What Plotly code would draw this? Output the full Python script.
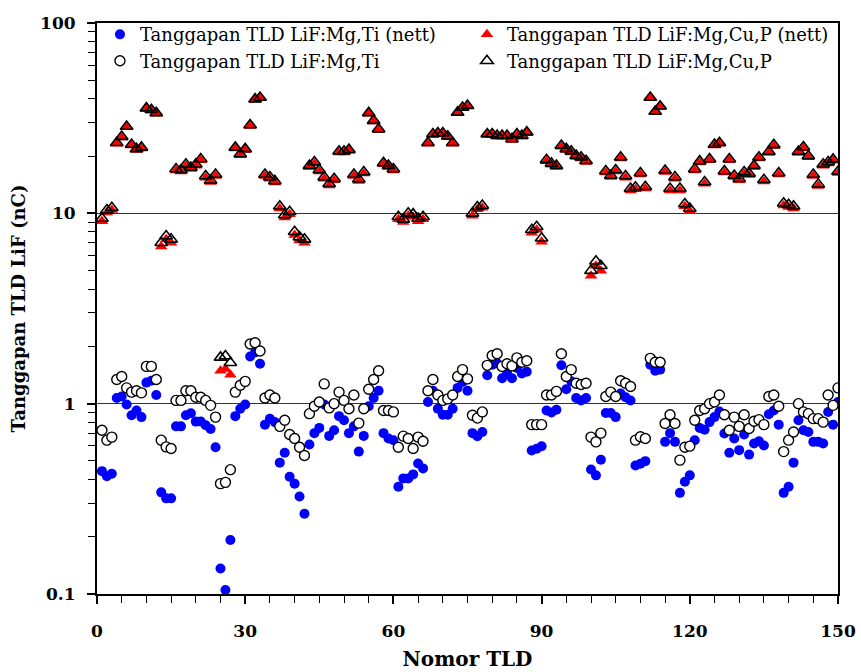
import plotly.graph_objects as go

tld = list(range(1, 151))

mgti_nett = [0.442, 0.416, 0.428, 1.07, 1.09, 0.99, 0.87, 0.92, 0.85, 1.29,
             1.32, 1.11, 0.342, 0.318, 0.318, 0.76, 0.76, 0.87, 0.89, 0.805,
             0.805, 0.77, 0.736, 0.59, 0.136, 0.105, 0.192, 0.86, 0.94, 0.99,
             1.77, 1.86, 1.62, 0.776, 0.834, 0.80, 0.49, 0.552, 0.413, 0.38,
             0.325, 0.264, 0.61, 0.70, 0.746, 0.99, 0.677, 0.725, 0.86, 0.818,
             0.70, 0.76, 0.56, 0.677, 0.97, 1.07, 1.17, 0.70, 0.656, 0.643,
             0.366, 0.405, 0.405, 0.425, 0.485, 0.457, 1.02, 1.17, 0.94, 0.875,
             0.875, 0.94, 1.21, 1.30, 1.17, 0.70, 0.675, 0.71, 1.41, 1.60,
             1.63, 1.36, 1.45, 1.36, 1.54, 1.44, 1.47, 0.567, 0.58, 0.598,
             0.92, 0.90, 0.93, 1.59, 1.19, 1.31, 1.07, 1.04, 1.07, 0.451,
             0.42, 0.507, 0.894, 0.894, 0.85, 1.13, 1.08, 1.04, 0.473, 0.483,
             0.499, 1.60, 1.49, 1.51, 0.63, 0.70, 0.63, 0.34, 0.389, 0.42,
             0.643, 0.746, 0.73, 0.80, 0.85, 0.91, 0.697, 0.552, 0.656, 0.57,
             0.689, 0.54, 0.618, 0.635, 0.603, 0.88, 0.92, 0.776, 0.34, 0.366,
             0.49, 0.818, 0.725, 0.71, 0.63, 0.63, 0.618, 0.905, 0.776, 1.02]

mgti_raw = [0.725, 0.643, 0.667, 1.34, 1.39, 1.21, 1.15, 1.17, 1.14, 1.57,
            1.57, 1.34, 0.643, 0.593, 0.581, 1.04, 1.04, 1.17, 1.17, 1.08,
            1.08, 1.04, 0.98, 0.85, 0.38, 0.386, 0.45, 1.15, 1.25, 1.31,
            2.06, 2.09, 1.89, 1.07, 1.11, 1.07, 0.76, 0.818, 0.689, 0.656,
            0.59, 0.534, 0.886, 0.97, 1.02, 1.27, 0.95, 1.0, 1.15, 1.04,
            0.94, 1.11, 0.79, 0.94, 1.19, 1.34, 1.49, 0.92, 0.92, 0.905,
            0.59, 0.675, 0.656, 0.581, 0.667, 0.635, 1.17, 1.34, 1.11, 1.04,
            1.06, 1.11, 1.39, 1.51, 1.35, 0.87, 0.84, 0.905, 1.59, 1.79,
            1.83, 1.57, 1.62, 1.58, 1.74, 1.65, 1.68, 0.776, 0.776, 0.776,
            1.11, 1.11, 1.16, 1.83, 1.39, 1.51, 1.28, 1.26, 1.28, 0.667,
            0.63, 0.70, 1.09, 1.15, 1.09, 1.32, 1.28, 1.23, 0.643, 0.67,
            0.656, 1.73, 1.65, 1.65, 0.786, 0.875, 0.786, 0.505, 0.59, 0.598,
            0.818, 0.92, 0.94, 1.0, 1.02, 1.11, 0.875, 0.725, 0.85, 0.76,
            0.875, 0.74, 0.808, 0.824, 0.776, 1.09, 1.11, 0.97, 0.56, 0.643,
            0.71, 1.0, 0.905, 0.886, 0.834, 0.834, 0.80, 1.11, 0.98, 1.21]

mgcup_nett = [9.1, 10.1, 10.4, 23.2, 25.0, 28.3, 22.7, 21.5, 21.9, 35.4,
              34.7, 33.4, 6.7, 7.3, 7.0, 16.8, 16.6, 17.8, 17.1, 17.8,
              19.0, 15.4, 14.6, 15.7, 1.49, 1.52, 1.42, 21.9, 20.2, 21.5,
              28.8, 39.5, 40.3, 15.7, 15.2, 14.5, 10.6, 9.5, 9.9, 7.7,
              7.2, 7.0, 17.5, 18.3, 16.6, 15.2, 14.0, 14.9, 20.9, 20.9,
              21.3, 15.7, 14.8, 16.2, 33.4, 30.4, 27.4, 18.1, 17.5, 16.8,
              9.3, 9.0, 9.7, 9.6, 9.1, 9.3, 23.2, 25.8, 26.1, 26.1,
              25.1, 23.2, 33.6, 35.7, 36.5, 9.7, 10.5, 10.7, 25.8, 25.8,
              25.3, 25.3, 25.3, 24.3, 25.8, 25.3, 26.4, 7.9, 8.2, 7.1,
              18.8, 18.0, 17.5, 22.4, 21.5, 20.9, 19.8, 19.4, 18.6, 4.7,
              5.3, 5.0, 16.4, 15.5, 16.6, 19.4, 15.4, 13.2, 13.4, 16.0,
              13.5, 40.3, 34.0, 36.2, 16.5, 13.2, 15.2, 13.2, 10.9, 10.3,
              16.8, 18.5, 14.3, 19.0, 22.7, 23.2, 16.4, 19.0, 15.5, 14.9,
              16.2, 15.9, 17.5, 19.4, 14.7, 20.8, 22.6, 16.0, 11.0, 10.8,
              10.6, 20.8, 22.0, 19.7, 15.7, 13.9, 17.8, 18.3, 18.9, 16.3]

mgcup_raw = [9.4, 10.4, 10.7, 23.5, 25.3, 28.6, 23.0, 21.8, 22.2, 35.7,
             35.0, 33.7, 7.0, 7.6, 7.3, 17.1, 16.9, 18.1, 17.4, 18.1,
             19.3, 15.7, 14.9, 16.0, 1.75, 1.78, 1.64, 22.2, 20.5, 21.8,
             29.1, 39.8, 40.6, 16.0, 15.5, 14.8, 10.9, 9.8, 10.2, 8.0,
             7.5, 7.3, 17.8, 18.6, 16.9, 15.5, 14.3, 15.2, 21.2, 21.2,
             21.6, 16.0, 15.1, 16.5, 33.7, 30.7, 27.7, 18.4, 17.8, 17.1,
             9.6, 9.3, 10.0, 9.9, 9.4, 9.6, 23.5, 26.1, 26.4, 26.4,
             25.4, 23.5, 33.9, 36.0, 36.8, 10.0, 10.8, 11.0, 26.1, 26.1,
             25.6, 25.6, 25.6, 24.6, 26.1, 25.6, 26.7, 8.2, 8.5, 7.4,
             19.1, 18.3, 17.8, 22.7, 21.8, 21.2, 20.1, 19.7, 18.9, 5.0,
             5.6, 5.3, 16.7, 15.8, 16.9, 19.7, 15.7, 13.5, 13.7, 16.3,
             13.8, 40.6, 34.3, 36.5, 16.8, 13.5, 15.5, 13.5, 11.2, 10.6,
             17.1, 18.8, 14.6, 19.3, 23.0, 23.5, 16.7, 19.3, 15.8, 15.2,
             16.5, 16.2, 17.8, 19.7, 15.0, 21.1, 22.9, 16.3, 11.3, 11.1,
             10.9, 21.1, 22.3, 20.0, 16.0, 14.2, 18.1, 18.6, 19.2, 16.6]

names = ["Tanggapan TLD LiF:Mg,Ti (nett)",
         "Tanggapan TLD LiF:Mg,Cu,P (nett)",
         "Tanggapan TLD LiF:Mg,Ti",
         "Tanggapan TLD LiF:Mg,Cu,P"]

y_tickvals = [0.1, 1, 10, 100]
y_ticktext = ["0.1", "1", "10", "100"]
y_minor = [0.2, 0.3, 0.4, 0.5, 0.6, 0.7, 0.8, 0.9,
           2, 3, 4, 5, 6, 7, 8, 9,
           20, 30, 40, 50, 60, 70, 80, 90]
x_tickvals = [0, 30, 60, 90, 120, 150]

fig = go.Figure()
fig.add_trace(go.Scatter(x=tld, y=mgti_nett, mode="markers", name=names[0],
                         marker=dict(symbol="circle", size=10, color="#0000ff",
                                     line=dict(width=0))))
fig.add_trace(go.Scatter(x=tld, y=mgcup_nett, mode="markers", name=names[1],
                         marker=dict(symbol="triangle-up", size=11, color="#ff0000",
                                     line=dict(width=0))))
fig.add_trace(go.Scatter(x=tld, y=mgti_raw, mode="markers", name=names[2],
                         marker=dict(symbol="circle", size=10, color="white",
                                     line=dict(width=1.4, color="black"))))
fig.add_trace(go.Scatter(x=tld, y=mgcup_raw, mode="markers", name=names[3],
                         marker=dict(symbol="triangle-up-open", size=11, color="black",
                                     line=dict(width=1.6, color="black"))))

serif = "DejaVu Serif"
fig.update_layout(
    width=861, height=672,
    margin=dict(l=97, r=23, t=23, b=78, autoexpand=False),
    paper_bgcolor="white", plot_bgcolor="white",
    font=dict(family=serif, color="black", size=18),
    showlegend=True,
    legend=dict(orientation="h", x=0.004, y=1.012, xanchor="left", yanchor="top",
                entrywidth=322, entrywidthmode="pixels",
                bgcolor="rgba(0,0,0,0)", borderwidth=0,
                font=dict(family=serif, size=18, color="black"),
                tracegroupgap=0),
    xaxis=dict(range=[0, 150], tickmode="array", tickvals=x_tickvals,
               automargin=False,
               ticks="outside", ticklen=8, tickwidth=1.5, tickcolor="black",
               showline=True, linewidth=2, linecolor="black", mirror=True,
               showgrid=False, zeroline=False,
               tickfont=dict(family=serif, size=17, color="black", weight="bold"),
               ticklabelstandoff=13,
               minor=dict(ticks="outside", ticklen=7, tickwidth=1.2, tickcolor="black",
                          dtick=5, tick0=0, showgrid=False),
               title=dict(text="Nomor TLD", standoff=12,
                          font=dict(family=serif, size=20, color="black", weight="bold"))),
    yaxis=dict(type="log", range=[-1, 2], tickmode="array",
               tickvals=y_tickvals, ticktext=y_ticktext,
               automargin=False,
               ticks="outside", ticklen=8, tickwidth=1.5, tickcolor="black",
               showline=True, linewidth=2, linecolor="black", mirror=True,
               showgrid=True, gridcolor="#333333", gridwidth=1, zeroline=False,
               tickfont=dict(family=serif, size=17, color="black", weight="bold"),
               ticklabelstandoff=8,
               minor=dict(ticks="outside", ticklen=7, tickwidth=1.2, tickcolor="black",
                          tickvals=y_minor, showgrid=False),
               title=dict(text="Tanggapan TLD LiF (nC)", standoff=10,
                          font=dict(family=serif, size=18, color="black", weight="bold"))),
)

fig.write_html("out.html")
